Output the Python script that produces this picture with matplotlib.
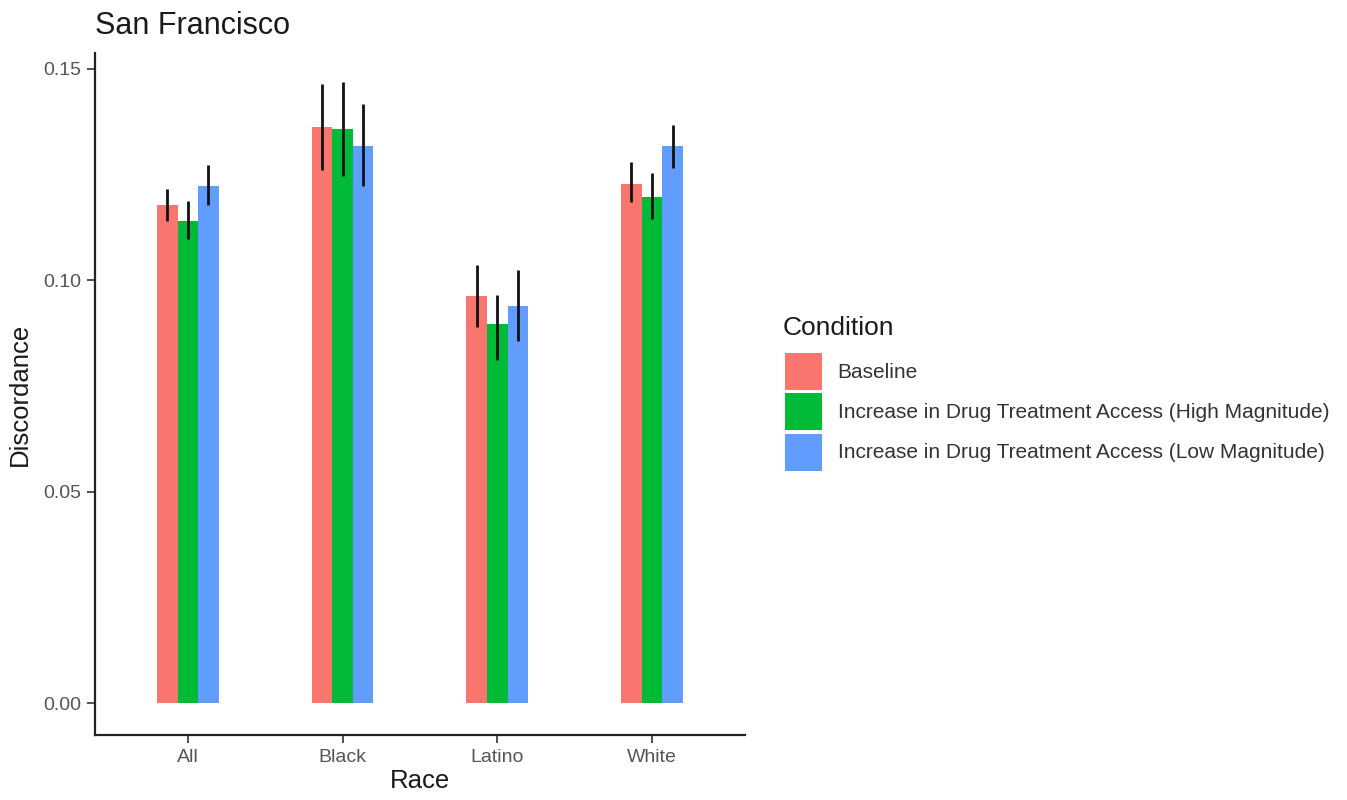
"""
San Francisco discordance by race and condition.
"""
import numpy as np
import matplotlib
matplotlib.use("Agg")
import matplotlib.pyplot as plt
from matplotlib.patches import Patch

plt.rcParams['font.family'] = ['Liberation Sans', 'DejaVu Sans']

races = ['All', 'Black', 'Latino', 'White']
conditions = ['Baseline',
              'Increase in Drug Treatment Access (High Magnitude)',
              'Increase in Drug Treatment Access (Low Magnitude)']
colors = ['#F8766D', '#00BA38', '#619CFF']

# mean discordance per race, one list per condition
baseline = [0.1179, 0.1362, 0.0963, 0.1229]
high_mag = [0.1141, 0.1357, 0.0898, 0.1198]
low_mag = [0.1222, 0.1317, 0.0939, 0.1317]

# error bar limits (lower, upper)
baseline_lo = [0.1141, 0.1260, 0.0889, 0.1186]
baseline_hi = [0.1217, 0.1464, 0.1036, 0.1279]
high_lo = [0.1098, 0.1246, 0.0813, 0.1146]
high_hi = [0.1188, 0.1469, 0.0965, 0.1255]
low_lo = [0.1179, 0.1222, 0.0856, 0.1265]
low_hi = [0.1272, 0.1417, 0.1024, 0.1367]

means = [baseline, high_mag, low_mag]
lows = [baseline_lo, high_lo, low_lo]
highs = [baseline_hi, high_hi, low_hi]

fig = plt.figure(figsize=(13.47, 8), dpi=100)
ax = fig.add_axes([0.0705, 0.081, 0.4825, 0.853])

x = np.arange(1, len(races) + 1)
bar_w = 0.133
for i in range(3):
    pos = x + (i - 1) * bar_w
    ax.bar(pos, means[i], width=bar_w, color=colors[i], linewidth=0)
    m = np.array(means[i])
    yerr = [m - np.array(lows[i]), np.array(highs[i]) - m]
    ax.errorbar(pos, m, yerr=yerr, fmt='none', ecolor='#111111',
                elinewidth=2.0, capsize=0)

ax.set_xlim(0.4, 4.6)
ax.set_ylim(-0.0075, 0.1538)
ax.set_xticks(x)
ax.set_xticklabels(races)
ax.set_yticks([0.0, 0.05, 0.10, 0.15])
ax.set_yticklabels(['0.00', '0.05', '0.10', '0.15'])
ax.tick_params(axis='both', direction='out', length=6, width=1.2,
               colors='#333333', labelsize=14, labelcolor='#555555', pad=4)

for side in ['top', 'right']:
    ax.spines[side].set_visible(False)
for side in ['left', 'bottom']:
    ax.spines[side].set_linewidth(1.6)
    ax.spines[side].set_color('#222222')

ax.set_xlabel('Race', fontsize=18.5, labelpad=2, color='#1a1a1a')
ax.set_ylabel('Discordance', fontsize=18.5, labelpad=8, color='#1a1a1a')
fig.text(0.0705, 0.968, 'San Francisco', fontsize=22, va='center',
         ha='left', color='#1a1a1a')

# legend: title drawn separately to match the gap above the keys
fig.text(0.5813, 0.59, 'Condition', fontsize=19, va='center', ha='left',
         color='#1a1a1a')
handles = [Patch(facecolor=c, edgecolor='none') for c in colors]
leg = fig.legend(handles, conditions, loc='upper left',
                 bbox_to_anchor=(0.5766, 0.569), frameon=False,
                 fontsize=15, handlelength=1.78, handleheight=2.36,
                 handletextpad=0.75, labelspacing=0.15, borderaxespad=0)
for t in leg.get_texts():
    t.set_color('#333333')

fig.savefig('out.png', dpi=100)
